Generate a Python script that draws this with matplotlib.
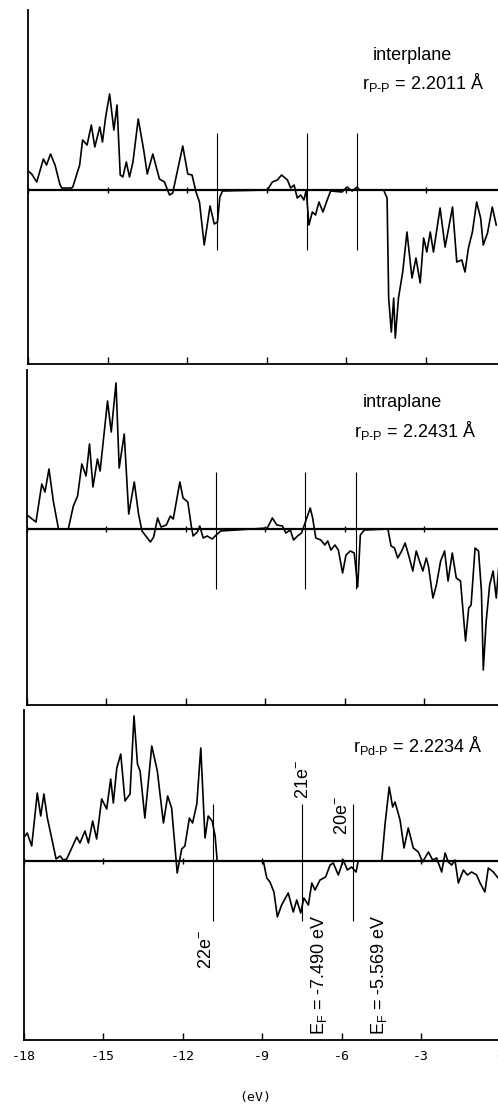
import matplotlib
matplotlib.use('Agg')
import matplotlib.pyplot as plt
import numpy as np

plt.rcParams['font.family'] = ['Liberation Sans', 'DejaVu Sans']
plt.rcParams['mathtext.fontset'] = 'custom'
plt.rcParams['mathtext.rm'] = 'Liberation Sans'
plt.rcParams['mathtext.it'] = 'Liberation Sans:italic'

# energy axis (eV)
ticks = [-18, -15, -12, -9, -6, -3, 0]
tick_labels = ['-18', '-15', '-12', '-9', '-6', '-3', '0']
fermi = [-10.85, -7.49, -5.569]
electrons = ['22e$^{-}$', '21e$^{-}$', '20e$^{-}$']
fermi_labels = ['', r'E$_\mathrm{F}$ = -7.490 eV', r'E$_\mathrm{F}$ = -5.569 eV']

# interplane P-P COOP (arbitrary units)
e_inter = [-17.95, -17.86, -17.67, -17.42, -17.30, -17.15, -16.98, -16.80, -16.73, -16.36, -16.31,
           -16.05, -15.94, -15.77, -15.61, -15.48, -15.29, -15.19, -15.07, -14.92, -14.76,
           -14.64, -14.52, -14.42, -14.29, -14.17, -14.04, -13.84, -13.64, -13.50, -13.29,
           -13.04, -12.85, -12.66, -12.54, -12.29, -12.16, -11.97, -11.81, -11.66, -11.53,
           -11.35, -11.13, -10.97, -10.85, -10.76, -10.66,
           -8.97, -8.78, -8.59, -8.43, -8.21, -8.09, -7.96, -7.84, -7.71, -7.59, -7.50,
           -7.40, -7.27, -7.15, -7.02, -6.87, -6.71, -6.58, -6.15, -5.96, -5.77, -5.58, -5.49,
           -4.58, -4.45, -4.39, -4.29, -4.20, -4.14, -4.02, -3.86, -3.70, -3.51, -3.36,
           -3.20, -3.07, -2.95, -2.82, -2.70, -2.45, -2.26, -1.98, -1.82, -1.63, -1.51,
           -1.38, -1.23, -1.07, -0.92, -0.82, -0.66, -0.48, -0.33]
coop_inter = [18, 16, 8, 31, 25, 36, 25, 6, 2, 2, 3,
              25, 50, 45, 65, 43, 63, 48, 73, 96, 60,
              85, 15, 13, 28, 13, 28, 71, 41, 16, 36,
              11, 8, -5, -3, 28, 44, 16, 15, -2, -12,
              -55, -16, -34, -32, -7, -1,
              0, 8, 10, 15, 10, 2, 5, -8, -5, -10, 0,
              -35, -22, -25, -12, -22, -10, -1, -2, 3, -1, 3, 0,
              0, -8, -108, -142, -108, -148, -108, -82, -42, -88, -68,
              -93, -48, -62, -42, -62, -18, -57, -17, -72, -70, -82,
              -58, -42, -12, -28, -55, -43, -17, -35]

# intraplane P-P COOP
e_intra = [-17.94, -17.65, -17.43, -17.31, -17.16, -16.99, -16.80, -16.43, -16.24, -16.08,
           -15.92, -15.76, -15.63, -15.50, -15.33, -15.23, -14.95, -14.81, -14.63, -14.51,
           -14.32, -14.15, -13.94, -13.78, -13.65, -13.33, -13.21, -13.06, -12.93, -12.73,
           -12.58, -12.47, -12.22, -12.10, -11.92, -11.79, -11.72, -11.56, -11.47, -11.34,
           -11.19, -11.00, -10.81, -10.68,
           -8.92, -8.73, -8.56, -8.35, -8.22, -8.05, -7.93, -7.78, -7.63, -7.47, -7.30,
           -7.21, -7.09, -6.90, -6.75, -6.64, -6.52, -6.37, -6.24, -6.08, -5.95, -5.79,
           -5.64, -5.51, -5.41, -5.26, -4.37, -4.25, -4.12, -4.00, -3.85, -3.72, -3.59,
           -3.43, -3.30, -3.18, -3.05, -2.92, -2.84, -2.67, -2.54, -2.38, -2.23, -2.10,
           -1.94, -1.79, -1.63, -1.44, -1.32, -1.23, -1.08, -0.95, -0.84, -0.77, -0.66,
           -0.53, -0.40, -0.28, -0.16]
coop_intra = [13, 7, 45, 37, 60, 27, 0, 0, 23, 33,
              65, 53, 85, 42, 70, 58, 128, 97, 146, 61,
              95, 15, 47, 15, -2, -13, -8, 11, 2, 4,
              13, 10, 47, 31, 27, 3, -7, -3, 3, -9,
              -7, -10, -5, -2,
              1, 11, 4, 3, -4, -1, -11, -7, -4, 8, 21,
              11, -9, -11, -16, -12, -21, -16, -21, -44, -26, -22,
              -24, -58, -6, -1, 0, -17, -19, -29, -22, -14, -26,
              -42, -22, -32, -42, -29, -37, -69, -56, -32, -22, -52,
              -24, -49, -52, -112, -79, -76, -19, -22, -62, -141, -92,
              -56, -42, -69, -29]

# Pd-P COOP
e_pdp = [-17.94, -17.86, -17.69, -17.48, -17.35, -17.23, -17.10, -16.97, -16.77, -16.62,
         -16.50, -16.37, -16.18, -15.99, -15.87, -15.68, -15.55, -15.39, -15.24, -15.05,
         -14.86, -14.71, -14.61, -14.48, -14.33, -14.17, -13.98, -13.83, -13.70, -13.60,
         -13.42, -13.16, -12.95, -12.72, -12.56, -12.41, -12.20, -12.03, -11.91, -11.74,
         -11.62, -11.46, -11.31, -11.15, -11.03, -10.88, -10.77, -10.69,
         -8.95, -8.82, -8.70, -8.55, -8.42, -8.26, -8.01, -7.82, -7.69, -7.54, -7.42,
         -7.25, -7.12, -7.00, -6.81, -6.60, -6.43, -6.31, -6.12, -5.93, -5.78, -5.62,
         -5.45, -5.37, -4.48, -4.36, -4.20, -4.07, -3.98, -3.79, -3.64, -3.48, -3.29,
         -3.10, -2.94, -2.72, -2.56, -2.41, -2.22, -2.09, -1.97, -1.84, -1.72, -1.59,
         -1.40, -1.25, -1.09, -0.90, -0.77, -0.59, -0.46, -0.27, -0.09]
coop_pdp = [25, 28, 15, 68, 45, 67, 43, 27, 2, 5,
            1, 2, 13, 24, 18, 30, 18, 40, 22, 62,
            52, 82, 58, 93, 107, 60, 67, 145, 97, 90,
            43, 115, 90, 38, 65, 53, -12, 12, 15, 43,
            38, 57, 113, 23, 45, 40, 25, 0,
            0, -17, -21, -31, -56, -44, -32, -51, -39, -52, -37,
            -44, -22, -29, -19, -16, -4, -2, -14, 1, -9, -6,
            -11, 0, 0, 36, 74, 54, 59, 41, 13, 33, 13,
            9, -1, 9, 1, 3, -11, 8, -1, -4, 1, -22,
            -9, -14, -11, -14, -22, -31, -7, -11, -17]

W, H = 498.0, 1106.0
px_ev = 26.5
# left, top, bottom, zero line (pixels)
boxes = [(28.0, 10, 364, 190), (26.7, 370, 705, 529), (23.5, 710, 1040, 861)]
curves = [(e_inter, coop_inter), (e_intra, coop_intra), (e_pdp, coop_pdp)]

fig = plt.figure(figsize=(W / 100, H / 100), dpi=100)
axes = []
for i, (left, top, bot, zero) in enumerate(boxes):
    ax = fig.add_axes([left / W, 1 - bot / H, 18 * px_ev / W, (bot - top) / H])
    ax.set_xlim(-18, 0)
    ax.set_ylim(-(bot - zero), zero - top)
    for s in ['top', 'right']:
        ax.spines[s].set_visible(False)
    for s in ['left', 'bottom']:
        ax.spines[s].set_linewidth(1.3)
    ax.axhline(0, color='k', lw=1.6)
    ax.plot(curves[i][0], curves[i][1], color='k', lw=1.2)
    ax.vlines(fermi, -60, 57, color='k', lw=0.8)
    ax.plot(ticks, np.zeros(len(ticks)), ls='none', marker='|', ms=5, mew=1, color='k')
    ax.set_yticks([])
    ax.set_xticks(ticks)
    ax.tick_params(axis='x', direction='in', length=5, width=1, pad=7)
    if i < 2:
        ax.tick_params(labelbottom=False)
    else:
        ax.set_xticklabels(tick_labels, fontfamily='DejaVu Sans Mono', fontsize=9.5)
    axes.append(ax)

ax1, ax2, ax3 = axes
ax1.text(-3.51, 130, 'interplane', ha='center', va='baseline', fontsize=13)
ax1.text(-3.09, 101, r'r$_{\mathrm{P\text{-}P}}$ = 2.2011 Å', ha='center', va='baseline', fontsize=13)
ax2.text(-3.84, 122, 'intraplane', ha='center', va='baseline', fontsize=13)
ax2.text(-3.35, 92, r'r$_{\mathrm{P\text{-}P}}$ = 2.2431 Å', ha='center', va='baseline', fontsize=13)
ax3.text(-3.11, 109, r'r$_{\mathrm{Pd\text{-}P}}$ = 2.2234 Å', ha='center', va='baseline', fontsize=13)

ax3.text(-11.08, -89, electrons[0], rotation=90, ha='center', va='center', fontsize=13)
ax3.text(-7.45, 81, electrons[1], rotation=90, ha='center', va='center', fontsize=13)
ax3.text(-5.98, 45, electrons[2], rotation=90, ha='center', va='center', fontsize=13)
ax3.text(-6.85, -114, fermi_labels[1], rotation=90, ha='center', va='center', fontsize=13)
ax3.text(-4.58, -114, fermi_labels[2], rotation=90, ha='center', va='center', fontsize=13)

fig.text(255 / W, 1 - 1097 / H, '(eV)', ha='center', va='center',
         fontfamily='DejaVu Sans Mono', fontsize=9.5)

fig.savefig('out.png', dpi=100)
